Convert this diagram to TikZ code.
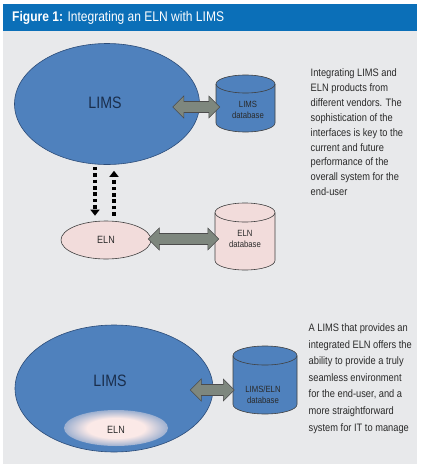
\documentclass[tikz,border=0pt]{standalone}
\usepackage{fontspec}
\setmainfont{Liberation Sans}[FakeStretch=0.86]
\usetikzlibrary{shapes.geometric,calc,arrows.meta}
\definecolor{hdrblue}{HTML}{0B6FB8}
\definecolor{panel}{HTML}{E8E9EB}
\definecolor{limsblue}{HTML}{4F81BD}
\definecolor{limsedge}{HTML}{2C4C78}
\definecolor{elnpink}{HTML}{F2DCDB}
\definecolor{glowpink}{HTML}{FBE9E7}
\definecolor{arrgrey}{HTML}{7E877E}
\definecolor{txtgrey}{HTML}{2A2A2A}
\definecolor{navy}{HTML}{1A2E4C}
\pgfdeclareradialshading{glow}{\pgfpoint{0bp}{0bp}}{color(0bp)=(glowpink); color(14bp)=(glowpink); color(34bp)=(limsblue); color(50bp)=(limsblue)}
\tikzset{
  bigtxt/.style={text=navy,font=\fontsize{16.5}{18}\selectfont,inner sep=0pt},
  midtxt/.style={text=txtgrey,font=\fontsize{10.5}{12}\selectfont,inner sep=0pt},
  dbtxt/.style={text=txtgrey,font=\fontsize{9}{11}\selectfont,align=center,inner sep=0pt},
  bodytxt/.style={text=txtgrey,align=left,inner sep=0pt,anchor=north west},
  limsell/.style={ellipse,draw=limsedge,fill=limsblue,line width=0.6pt,inner sep=0pt},
  elnell/.style={ellipse,draw=black!75,fill=elnpink,line width=0.6pt,inner sep=0pt},
  fat/.style={draw=black!70,fill=arrgrey,line width=0.6pt,line join=miter},
  dotarrow/.style={line width=3.4pt,dash pattern=on 3.6pt off 2.8pt,-{Triangle[width=9pt,length=6pt]}}
}
% cylinder: name, cx, ytop, ybot, halfwidth, ry, fill, text
\newcommand\dbcyl[8]{%
  \fill[#7] (#2-#5,#3+#6) -- (#2-#5,#4-#6) arc[start angle=180,end angle=360,x radius=#5pt,y radius=#6pt] -- (#2+#5,#3+#6) arc[start angle=0,end angle=180,x radius=#5pt,y radius=#6pt] -- cycle;
  \draw[black!75,line width=0.6pt] (#2-#5,#3+#6) -- (#2-#5,#4-#6) arc[start angle=180,end angle=360,x radius=#5pt,y radius=#6pt] -- (#2+#5,#3+#6);
  \draw[black!75,line width=0.6pt] (#2,#3+#6) ellipse[x radius=#5pt,y radius=#6pt];
  \node[dbtxt,minimum width=2*#5,minimum height=#4-#3] (#1) at (#2,{(#3+#4)/2}) {};
}
\newcommand\fatarrow[2]{%
  \path[fat] let \p1=(#1), \p2=(#2) in
    (\x1,\y1) -- (\x1+11pt,\y1+11pt) -- (\x1+11pt,\y1+5.5pt) -- (\x2-11pt,\y1+5.5pt) -- (\x2-11pt,\y1+11pt)
    -- (\x2,\y1) -- (\x2-11pt,\y1-11pt) -- (\x2-11pt,\y1-5.5pt) -- (\x1+11pt,\y1-5.5pt) -- (\x1+11pt,\y1-11pt) -- cycle;
}
\begin{document}
\begin{tikzpicture}[x=1pt,y=-1pt]
\useasboundingbox (0,0) rectangle (421,472);
\fill[white] (0,0) rectangle (421,472);
\fill[panel] (3,31) rectangle (417,464);
\fill[hdrblue] (3,4) rectangle (417,31);
\node[anchor=base west,text=white,inner sep=0pt,font=\fontsize{14}{16}\selectfont] (title) at (12,21.5) {\textbf{Figure 1:} Integrating an ELN with LIMS};

% ---- top part
\node[limsell,minimum width=185,minimum height=121] (lims1) at (107,104) {};
\node[bigtxt] (lims1lbl) at (105,103) {LIMS};
\dbcyl{ldb}{245.5}{75}{132}{29.5}{9}{limsblue}{}
\node[dbtxt] (ldbtxt) at (248,110) {LIMS\\database};
\fatarrow{$(lims1.east)+(-27,3)$}{$(ldb.west)+(4,0)$}

\node[elnell,minimum width=90,minimum height=38] (eln1) at (106,240) {};
\node[midtxt] (eln1lbl) at (106,240) {ELN};
\dbcyl{edb}{245}{203}{270}{30}{9.5}{elnpink}{}
\node[dbtxt] (edbtxt) at (245,239) {ELN\\database};
\fatarrow{$(eln1.east)+(-3,-1)$}{$(edb.west)+(4,0)$}

\draw[dotarrow] ($(lims1.south)+(-12,2)$) -- ($(eln1.north)+(-11,-5)$);
\draw[dotarrow] ($(eln1.north)+(8,-5)$) -- ($(lims1.south)+(7,6)$);

\node[bodytxt,font=\fontsize{10.8}{14.9}\selectfont] (t1) at (310.5,68.5) {Integrating LIMS and\\ELN products from\\different vendors. The\\sophistication of the\\interfaces is key to the\\current and future\\performance of the\\overall system for the\\end-user};

% ---- bottom part
\node[limsell,minimum width=198,minimum height=127] (lims2) at (114,388.5) {};
\node[bigtxt] (lims2lbl) at (110,381) {LIMS};
\shade[shading=glow] (116,428) ellipse[x radius=52pt,y radius=18pt];
\node[midtxt] (eln2) at (116,430) {ELN};
\dbcyl{ledb}{265}{346}{414}{32}{9.5}{limsblue}{}
\node[dbtxt] (ledbtxt) at (263,395) {LIMS/ELN\\database};
\fatarrow{$(lims2.east)+(-23,1.5)$}{$(ledb.west)+(1.5,0)$}

\node[bodytxt,font=\fontsize{10.8}{16.6}\selectfont] (t2) at (308.5,323.5) {A LIMS that provides an\\integrated ELN offers the\\ability to provide a truly\\seamless environment\\for the end-user, and a\\more straightforward\\system for IT to manage};
\end{tikzpicture}
\end{document}
